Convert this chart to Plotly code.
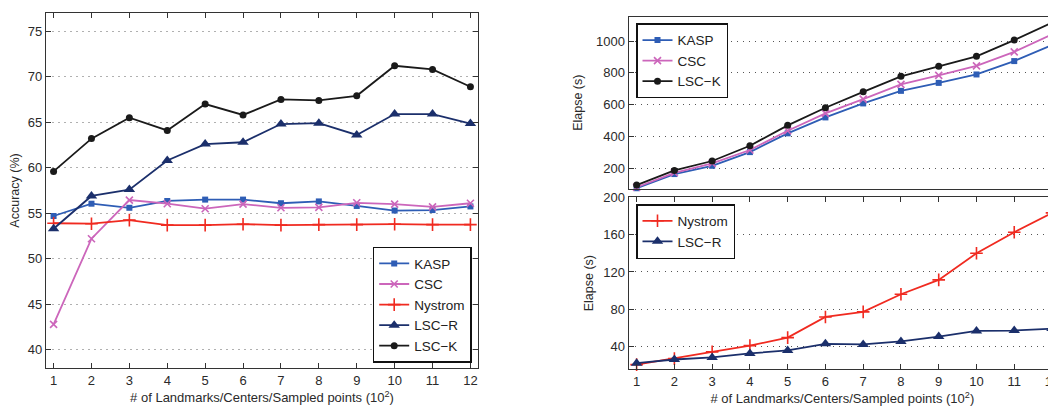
import plotly.graph_objects as go

x_vals = list(range(1, 13))

# Accuracy (%)
acc_kasp = [54.7, 56.05, 55.6, 56.35, 56.5, 56.5, 56.1, 56.3, 55.8, 55.3, 55.35, 55.75]
acc_csc = [42.8, 52.2, 56.45, 56.05, 55.5, 56.0, 55.6, 55.65, 56.15, 56.0, 55.7, 56.1]
acc_nystrom = [53.9, 53.85, 54.25, 53.7, 53.7, 53.8, 53.7, 53.75, 53.75, 53.8, 53.75, 53.75]
acc_lscr = [53.3, 56.9, 57.6, 60.8, 62.6, 62.8, 64.8, 64.9, 63.6, 65.9, 65.9, 64.85]
acc_lsck = [59.6, 63.2, 65.5, 64.1, 67.0, 65.8, 67.5, 67.4, 67.9, 71.2, 70.8, 68.9]

# Elapse (s)
t_kasp = [75, 164, 216, 302, 420, 520, 608, 687, 737, 790, 874, 975]
t_csc = [81, 172, 231, 315, 436, 545, 635, 728, 784, 844, 932, 1042]
t_lsck = [95, 187, 246, 342, 470, 581, 681, 778, 841, 904, 1006, 1116]
t_nystrom = [20.7, 27.1, 34.3, 41.0, 49.6, 71.8, 77.2, 96.1, 111.5, 140.0, 162.6, 183.3]
t_lscr = [22.2, 26.2, 28.4, 32.7, 35.9, 43.0, 42.3, 45.5, 50.8, 56.8, 57.2, 59.3]

acc_ticks = [40, 45, 50, 55, 60, 65, 70, 75]
t_top_ticks = [200, 400, 600, 800, 1000]
t_bot_ticks = [40, 80, 120, 160, 200]

C_KASP = "#2E5DB5"
C_CSC = "#CC66BB"
C_NYS = "#F02A20"
C_LSCR = "#1B2F6B"
C_LSCK = "#1A1A1A"

# page body has an 8px margin; lay out in screen pixels and convert
OFF = 8
W, H = 1056 - OFF, 407 - OFF

styles = {
    "KASP": dict(color=C_KASP, symbol="square", size=6, mlw=0),
    "CSC": dict(color=C_CSC, symbol="x-thin-open", size=7, mlw=1.6),
    "Nystrom": dict(color=C_NYS, symbol="cross-thin-open", size=9, mlw=1.6),
    "LSC\u2212R": dict(color=C_LSCR, symbol="triangle-up", size=10, mlw=0),
    "LSC\u2212K": dict(color=C_LSCK, symbol="circle", size=7, mlw=0),
}

def tr(name, y, xa, ya, legend):
    s = styles[name]
    return go.Scatter(
        x=x_vals, y=y, name=name, mode="lines+markers",
        xaxis=xa, yaxis=ya, legend=legend, cliponaxis=False,
        line=dict(color=s["color"], width=1.8),
        marker=dict(symbol=s["symbol"], size=s["size"], color=s["color"],
                    line=dict(color=s["color"], width=s["mlw"])),
    )

fig = go.Figure()
fig.add_trace(tr("KASP", acc_kasp, "x", "y", "legend"))
fig.add_trace(tr("CSC", acc_csc, "x", "y", "legend"))
fig.add_trace(tr("Nystrom", acc_nystrom, "x", "y", "legend"))
fig.add_trace(tr("LSC\u2212R", acc_lscr, "x", "y", "legend"))
fig.add_trace(tr("LSC\u2212K", acc_lsck, "x", "y", "legend"))

fig.add_trace(tr("KASP", t_kasp, "x2", "y2", "legend2"))
fig.add_trace(tr("CSC", t_csc, "x2", "y2", "legend2"))
fig.add_trace(tr("LSC\u2212K", t_lsck, "x2", "y2", "legend2"))

fig.add_trace(tr("Nystrom", t_nystrom, "x3", "y3", "legend3"))
fig.add_trace(tr("LSC\u2212R", t_lscr, "x3", "y3", "legend3"))

FONT = "Liberation Sans, Arial, sans-serif"
TXT = "#2a2a2a"

def sx(a):
    return (a - OFF) / W

def sy(a):
    return 1 - (a - OFF) / H

def px_x(a, b):
    return [sx(a), min(1.0, sx(b))]

def px_y(top, bottom):
    return [sy(bottom), sy(top)]

xlabel = "# of Landmarks/Centers/Sampled points (10<sup>2</sup>)"

common_x = dict(tickmode="array", tickvals=x_vals, ticks="inside", ticklen=5,
                tickcolor="#333", showline=True, linecolor="#333", linewidth=1.3,
                showgrid=False, zeroline=False, automargin=False,
                ticklabeloverflow="allow",
                tickfont=dict(size=13, color=TXT))
common_y = dict(tickmode="array", ticks="inside", ticklen=5, tickcolor="#333",
                showline=True, linecolor="#333", linewidth=1.3, zeroline=False,
                automargin=False, ticklabeloverflow="allow",
                tickfont=dict(size=13, color=TXT))

leg_common = dict(bgcolor="white", bordercolor="#111", borderwidth=1.5,
                  font=dict(size=13.5, color="#222", family=FONT),
                  tracegroupgap=0, itemwidth=30)

fig.update_layout(
    width=W, height=H,
    margin=dict(l=0, r=0, t=0, b=0),
    paper_bgcolor="white", plot_bgcolor="white",
    font=dict(family=FONT, color=TXT),
    showlegend=True,
    xaxis=dict(common_x, domain=px_x(46, 478), range=[0.8, 12.2], anchor="y",
               mirror="allticks",
               title=dict(text=xlabel, font=dict(size=13, color=TXT), standoff=6)),
    yaxis=dict(common_y, domain=px_y(13, 368), range=[38, 77], anchor="x",
               tickvals=acc_ticks, mirror="allticks",
               showgrid=True, gridcolor="#B0B0B0", griddash="2px,4px", gridwidth=1,
               title=dict(text="Accuracy (%)", font=dict(size=12.5, color=TXT), standoff=5)),
    xaxis2=dict(common_x, domain=px_x(628.7, 1056), range=[0.79, 12.106], anchor="y2",
                ticks="", showticklabels=False, mirror=True),
    yaxis2=dict(common_y, domain=px_y(16.7, 188.7), range=[72, 1153], anchor="x2",
                tickvals=t_top_ticks,
                showgrid=True, gridcolor="#555555", griddash="1px,5px", gridwidth=1,
                title=dict(text="Elapse (s)", font=dict(size=12.5, color=TXT), standoff=10)),
    xaxis3=dict(common_x, domain=px_x(628.7, 1056), range=[0.79, 12.106], anchor="y3",
                mirror="allticks",
                title=dict(text=xlabel, font=dict(size=13, color=TXT), standoff=6)),
    yaxis3=dict(common_y, domain=px_y(197.3, 369), range=[16, 200], anchor="x3",
                tickvals=t_bot_ticks,
                showgrid=True, gridcolor="#555555", griddash="1px,5px", gridwidth=1,
                title=dict(text="Elapse (s)", font=dict(size=12.5, color=TXT), standoff=6)),
    legend=dict(leg_common, x=sx(471.7), y=sy(362.7), xanchor="right", yanchor="bottom"),
    legend2=dict(leg_common, x=sx(636), y=sy(23.3), xanchor="left", yanchor="top"),
    legend3=dict(leg_common, x=sx(636), y=sy(204), xanchor="left", yanchor="top"),
)

fig.write_html("out.html")
